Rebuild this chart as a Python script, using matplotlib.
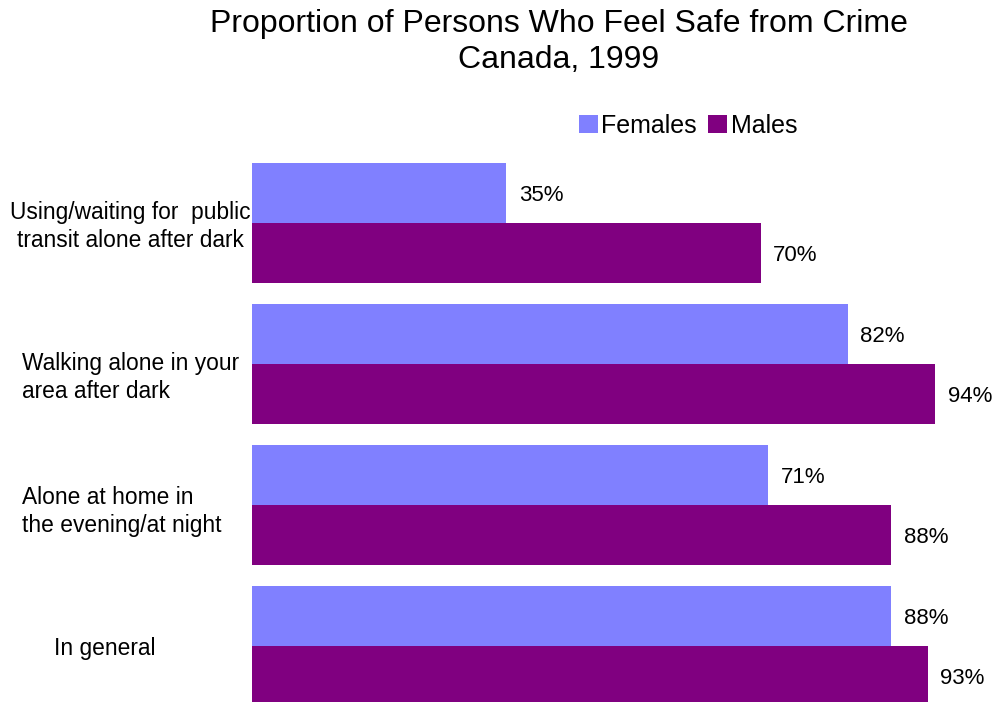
import matplotlib
matplotlib.use("Agg")
import matplotlib.pyplot as plt
import matplotlib.transforms as mtransforms
from matplotlib.patches import Patch

plt.rcParams['font.family'] = ['Liberation Sans', 'DejaVu Sans']

categories = [
    "Using/waiting for  public\ntransit alone after dark",
    "Walking alone in your\narea after dark",
    "Alone at home in\nthe evening/at night",
    "In general",
]
females = [35, 82, 71, 88]
males = [70, 94, 88, 93]
series_names = ["Females", "Males"]
colors = ["#8080FF", "#800080"]

W, H = 995, 702
fig = plt.figure(figsize=(W / 100, H / 100), dpi=100)
ax = fig.add_axes([252 / W, 0.0, 726.6 / W, 550 / H])

bar_h = 0.4255
ypos = list(range(len(categories)))
ax.barh([y - bar_h / 2 for y in ypos], females, height=bar_h, color=colors[0], linewidth=0)
ax.barh([y + bar_h / 2 for y in ypos], males, height=bar_h, color=colors[1], linewidth=0)

ax.set_xlim(0, 100)
ax.set_ylim(3.4, -0.5)
ax.axis("off")

# value labels at the end of each bar
for vals, sign in ((females, -1), (males, 1)):
    for y, v in zip(ypos, vals):
        ax.annotate(f"{v}%", xy=(v, y + sign * bar_h / 2), xytext=(9, -2),
                    textcoords="offset points", ha="left", va="center",
                    fontsize=16, color="black")

# category labels on the left, placed in figure pixels horizontally
label_style = [(130, "center", 4), (22, "left", 14), (22, "left", 7), (54, "left", 3)]
trans = mtransforms.blended_transform_factory(fig.transFigure, ax.transData)
for y, text, (xp, ha, dy) in zip(ypos, categories, label_style):
    ax.text(xp / W, y + dy / 141, text, transform=trans, ha=ha, va="center",
            multialignment="center" if ha == "center" else "left",
            fontsize=16.4, linespacing=1.28, clip_on=False)

fig.text(559 / W, 1 - 42 / H, "Proportion of Persons Who Feel Safe from Crime\nCanada, 1999",
         ha="center", va="center", fontsize=23, linespacing=1.22)

handles = [Patch(facecolor=c, edgecolor="none") for c in colors]
fig.legend(handles, series_names, loc="center", bbox_to_anchor=(688 / W, 1 - 126 / H),
           ncol=2, frameon=False, fontsize=18, handlelength=0.75, handleheight=0.75,
           handletextpad=0.15, columnspacing=0.45, borderpad=0)

fig.savefig("out.png", dpi=100)
